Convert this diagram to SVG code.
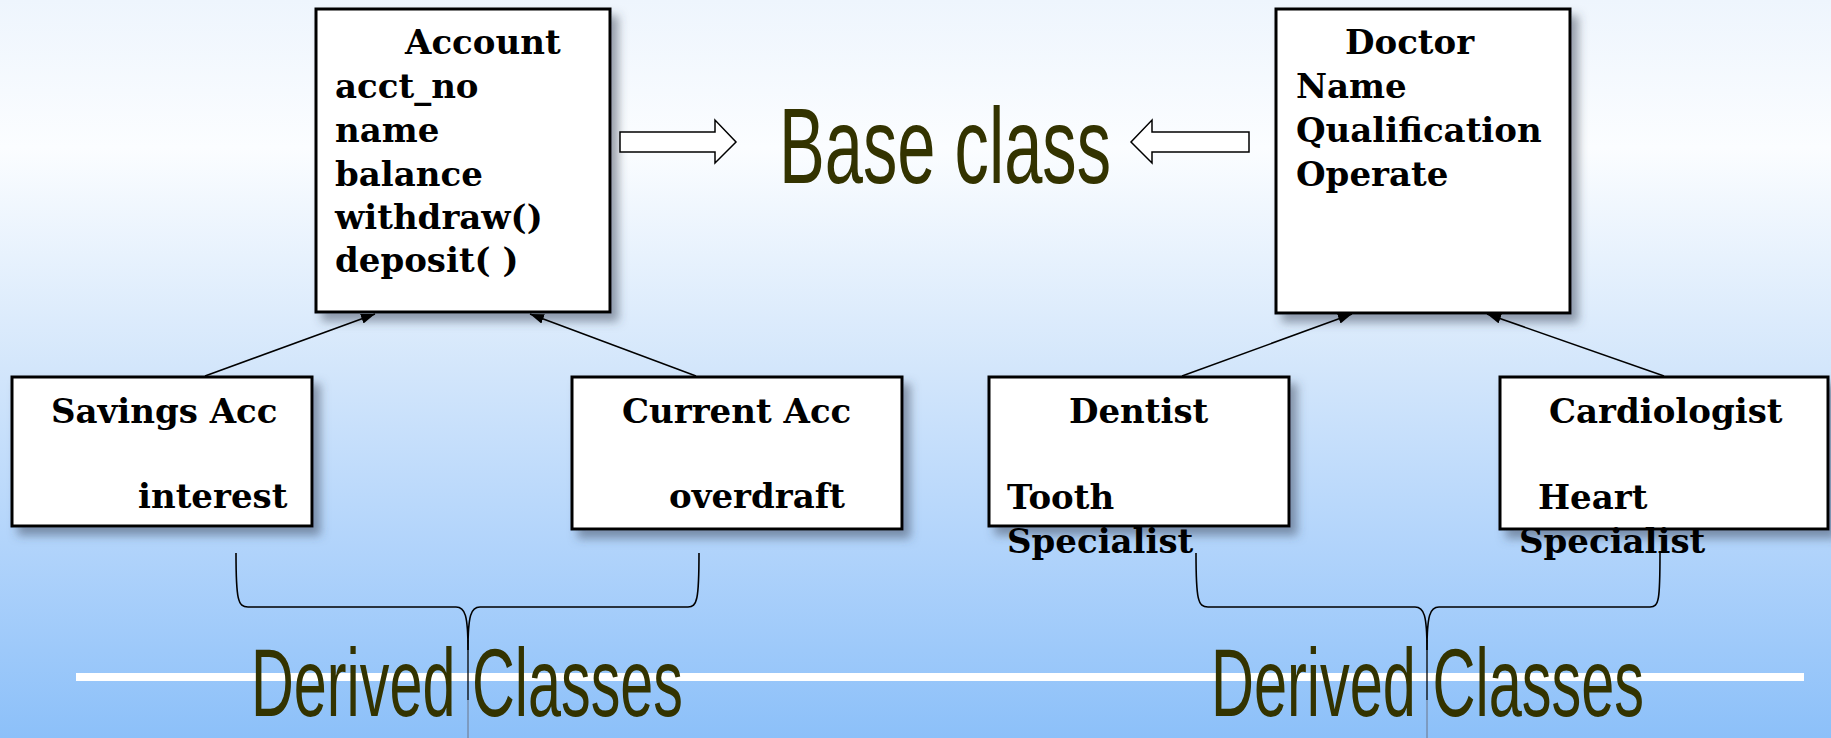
<svg xmlns="http://www.w3.org/2000/svg" width="1831" height="738" viewBox="0 0 1831 738">
  <defs>
    <linearGradient id="bg" x1="0" y1="0" x2="0" y2="1">
      <stop offset="0" stop-color="#eef5fd"/>
      <stop offset="0.2" stop-color="#fbfdff"/>
      <stop offset="0.5" stop-color="#d3e6fb"/>
      <stop offset="0.75" stop-color="#b0d3fb"/>
      <stop offset="1" stop-color="#8cc0f9"/>
    </linearGradient>
    <filter id="shadow" x="-10%" y="-10%" width="130%" height="130%">
      <feDropShadow dx="7" dy="8" stdDeviation="5" flood-color="#3a4658" flood-opacity="0.5"/>
    </filter>
    <marker id="tri" viewBox="0 0 14 10" refX="14" refY="5" markerWidth="14" markerHeight="10" markerUnits="userSpaceOnUse" orient="auto">
      <path d="M0,0 L14,5 L0,10 Z" fill="#000"/>
    </marker>
    <style>
      .box { fill: #fff; stroke: #000; stroke-width: 3; }
      .head { font-family: "DejaVu Serif", "Liberation Serif", serif; font-weight: bold; font-size: 34px; fill: #000; }
      .sub { font-family: "DejaVu Serif", "Liberation Serif", serif; font-weight: bold; font-size: 34px; fill: #000; }
      .big { font-family: "Liberation Sans", Arial, sans-serif; fill: #333300; }
      .conn { stroke: #000; stroke-width: 1.5; fill: none; }
      .hollow { fill: #fff; stroke: #000; stroke-width: 1.5; }
      .brace { fill: none; stroke: #000; stroke-width: 1.6; }
    </style>
  </defs>

  <!-- background -->
  <rect x="0" y="0" width="1831" height="738" fill="url(#bg)"/>
  <rect x="76" y="673" width="1728" height="8" fill="#fff"/>

  <!-- base classes -->
  <g id="account">
    <rect class="box" x="316" y="9" width="294" height="303" filter="url(#shadow)"/>
    <text class="head" x="405" y="54">Account</text>
    <text class="head" x="335" y="98">acct_no</text>
    <text class="head" x="335" y="142">name</text>
    <text class="head" x="335" y="186">balance</text>
    <text class="head" x="335" y="229">withdraw()</text>
    <text class="head" x="335" y="272">deposit( )</text>
  </g>

  <g id="doctor">
    <rect class="box" x="1276" y="9" width="294" height="304" filter="url(#shadow)"/>
    <text class="head" x="1345" y="54">Doctor</text>
    <text class="head" x="1296" y="98">Name</text>
    <text class="head" x="1296" y="142">Qualification</text>
    <text class="head" x="1296" y="186">Operate</text>
  </g>

  <g id="base-label">
    <text class="big" x="779" y="183" font-size="108" textLength="332" lengthAdjust="spacingAndGlyphs">Base class</text>
  </g>

  <!-- derived classes -->
  <g id="savings">
    <rect class="box" x="12" y="377" width="300" height="149" filter="url(#shadow)"/>
    <text class="sub" x="51" y="423">Savings Acc</text>
    <text class="sub" x="138" y="508">interest</text>
  </g>

  <g id="current">
    <rect class="box" x="572" y="377" width="330" height="152" filter="url(#shadow)"/>
    <text class="sub" x="622" y="423">Current Acc</text>
    <text class="sub" x="669" y="508">overdraft</text>
  </g>

  <g id="dentist">
    <rect class="box" x="989" y="377" width="300" height="149" filter="url(#shadow)"/>
    <text class="sub" x="1069" y="423">Dentist</text>
    <text class="sub" x="1007" y="509">Tooth</text>
    <text class="sub" x="1007" y="553">Specialist</text>
  </g>

  <g id="cardiologist">
    <rect class="box" x="1500" y="377" width="328" height="152" filter="url(#shadow)"/>
    <text class="sub" x="1549" y="423">Cardiologist</text>
    <text class="sub" x="1538" y="509">Heart</text>
    <text class="sub" x="1519" y="553">Specialist</text>
  </g>

  <g id="derived-label-left">
    <text class="big" x="251" y="716" font-size="97" textLength="432" lengthAdjust="spacingAndGlyphs">Derived Classes</text>
  </g>
  <g id="derived-label-right">
    <text class="big" x="1211" y="716" font-size="97" textLength="433" lengthAdjust="spacingAndGlyphs">Derived Classes</text>
  </g>

  <!-- connectors -->
  <g id="connectors">
    <line class="conn" x1="205" y1="376" x2="375" y2="314" marker-end="url(#tri)"/>
    <line class="conn" x1="696" y1="376" x2="530" y2="314" marker-end="url(#tri)"/>
    <line class="conn" x1="1182" y1="376" x2="1352" y2="314" marker-end="url(#tri)"/>
    <line class="conn" x1="1664" y1="376" x2="1487" y2="314" marker-end="url(#tri)"/>

    <polygon class="hollow" points="620,132 715,132 715,120 736,142 715,163 715,152 620,152"/>
    <polygon class="hollow" points="1249,132 1152,132 1152,120 1131,142 1152,163 1152,152 1249,152"/>

    <path class="brace" d="M236,553 C236,600 238,607 248,607 L456,607 C465,607 468,615 468,650 C468,615 471,607 480,607 L688,607 C697,607 699,600 699,553"/>
    <line x1="468" y1="640" x2="468" y2="700" stroke="#000" stroke-width="1.3"/>
    <line x1="468" y1="700" x2="468" y2="738" stroke="#6a7588" stroke-width="1"/>

    <path class="brace" d="M1196,553 C1196,600 1198,607 1208,607 L1415,607 C1424,607 1427,615 1427,650 C1427,615 1430,607 1439,607 L1650,607 C1659,607 1660,600 1660,553"/>
    <line x1="1427" y1="640" x2="1427" y2="700" stroke="#000" stroke-width="1.3"/>
    <line x1="1427" y1="700" x2="1427" y2="738" stroke="#6a7588" stroke-width="1"/>
  </g>
</svg>
